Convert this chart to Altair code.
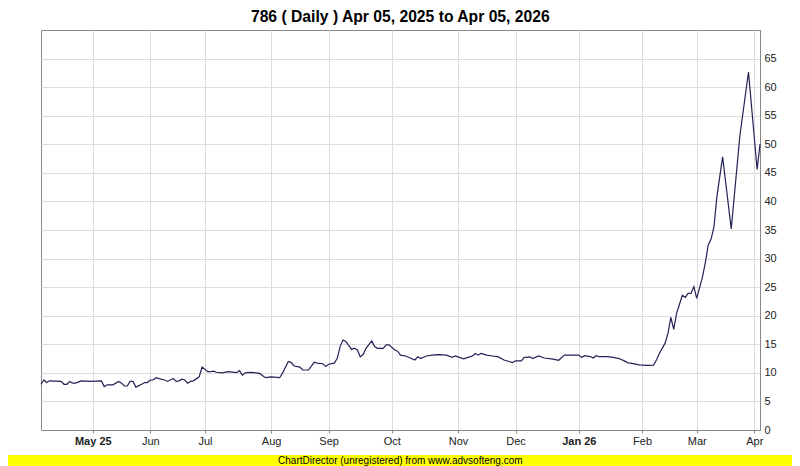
import json
import altair as alt
import pandas as pd

# Trading-session index and closing value
days = [0, 1, 2, 3, 7, 8, 9, 10, 11, 12, 14, 17, 21, 22, 23, 25, 27, 28, 29, 30,
        31, 32, 33, 35, 36, 37, 38, 39, 40, 41, 43, 44, 46, 47, 48, 49, 50, 51, 52, 53,
        55, 56, 58, 59, 60, 61, 63, 65, 68, 69, 70, 71, 73, 76, 78, 80, 81, 83, 84, 86,
        87, 88, 90, 91, 92, 93, 95, 96, 98, 99, 100, 102, 103, 104, 105, 106, 108, 109, 110, 111,
        112, 113, 115, 116, 117, 119, 120, 121, 123, 124, 125, 127, 128, 130, 131, 132, 134, 136, 138, 141,
        143, 144, 145, 147, 149, 150, 151, 152, 153, 155, 157, 159, 161, 163, 164, 165, 167, 168, 169, 170,
        171, 173, 175, 178, 180, 182, 184, 187, 188, 189, 191, 192, 193, 194, 197, 199, 201, 203, 204, 205,
        208, 211, 213, 214, 215, 217, 218, 219, 220, 221, 222, 223, 224, 225, 226, 227, 228, 230, 231, 232,
        233, 234, 235, 237, 240, 243, 246, 249, 250]
prices = [8.0, 8.75, 8.3, 8.6, 8.5, 8.0, 8.0, 8.5, 8.2, 8.2, 8.6, 8.5, 8.6, 7.6, 7.9, 7.9, 8.5, 8.2, 7.7, 7.7,
          8.5, 8.5, 7.5, 8.0, 8.3, 8.3, 8.75, 8.75, 9.15, 9.0, 8.75, 8.5, 9.0, 8.5, 8.6, 8.9, 8.75, 8.2, 8.5, 8.6,
          9.3, 11.0, 10.2, 10.2, 10.3, 10.1, 10.0, 10.2, 10.05, 10.4, 9.6, 10.0, 10.1, 9.9, 9.15, 9.3, 9.25, 9.15, 10.0, 12.0,
          11.8, 11.2, 11.0, 10.5, 10.5, 10.5, 11.85, 11.7, 11.6, 11.1, 11.5, 11.7, 12.55, 14.6, 15.75, 15.5, 14.1, 14.3, 14.0, 12.8,
          13.2, 14.3, 15.6, 14.6, 14.3, 14.3, 14.9, 14.9, 14.0, 13.8, 13.1, 12.9, 12.7, 12.25, 12.8, 12.5, 12.95, 13.1, 13.2, 13.1,
          12.7, 12.95, 12.8, 12.45, 12.8, 12.95, 13.4, 13.1, 13.4, 13.1, 12.95, 12.8, 12.25, 11.95, 11.8, 12.1, 12.1, 12.7, 12.7, 12.8,
          12.5, 12.95, 12.6, 12.4, 12.2, 13.1, 13.1, 13.1, 12.7, 13.0, 12.85, 12.6, 13.0, 12.85, 12.85, 12.7, 12.5, 12.05, 11.75, 11.7,
          11.4, 11.3, 11.35, 12.25, 13.4, 15.2, 16.9, 19.7, 17.6, 20.4, 22.0, 23.6, 23.2, 23.9, 23.9, 25.1, 23.05, 26.8, 29.3, 32.4,
          33.4, 35.6, 40.8, 47.8, 35.2, 51.5, 62.65, 45.6, 50.0]

month_ticks = [18, 38, 57, 80, 100, 122, 145, 165, 187, 209, 228, 248]
month_labels = ["May 25", "Jun", "Jul", "Aug", "Sep", "Oct", "Nov", "Dec",
                "Jan 26", "Feb", "Mar", "Apr"]
bold_ticks = [18, 187]
y_ticks = [0, 5, 10, 15, 20, 25, 30, 35, 40, 45, 50, 55, 60, 65]

title_text = "786 ( Daily ) Apr 05, 2025 to Apr 05, 2026"
footer_text = "ChartDirector (unregistered) from www.advsofteng.com"

df = pd.DataFrame({"day": days, "price": prices})

label_expr = f"{json.dumps(month_labels)}[indexof({json.dumps(month_ticks)}, datum.value)]"
bold_test = f"indexof({json.dumps(bold_ticks)}, datum.value) >= 0"

FONT = "Liberation Sans"

line = alt.Chart(df).mark_line(color="#222255", strokeWidth=1.2).encode(
    x=alt.X("day:Q",
            scale=alt.Scale(domain=[0, 250], nice=False, zero=False),
            axis=alt.Axis(values=month_ticks, labelExpr=label_expr, grid=True,
                          gridColor="#dcdcdc", domainColor="#888888", tickColor="#888888",
                          tickSize=3, labelPadding=2, labelFontSize=11, labelFont=FONT,
                          labelColor="#222222", labelOverlap=False, labelBound=False,
                          labelFlush=False,
                          labelFontWeight={"condition": {"test": bold_test, "value": "bold"},
                                           "value": "normal"},
                          title=None)),
    y=alt.Y("price:Q",
            scale=alt.Scale(domain=[0, 70], nice=False),
            axis=alt.Axis(orient="right", values=y_ticks, grid=True, gridColor="#dcdcdc",
                          domainColor="#888888", ticks=False, labelPadding=4,
                          labelFontSize=11, labelFont=FONT, labelColor="#222222",
                          labelFlush=False, title=None)),
)

one_row = alt.Data(values=[{"k": 1}])

band = alt.Chart(one_row).mark_rect(color="#ffff00").encode(
    x=alt.value(-33), x2=alt.value(751), y=alt.value(425), y2=alt.value(436)
)

footer = alt.Chart(one_row).mark_text(
    text=footer_text, fontSize=10, font=FONT, color="#000000",
    align="center", baseline="middle"
).encode(x=alt.value(359.3), y=alt.value(431))

title = alt.Chart(one_row).mark_text(
    text=title_text, fontSize=15.7, font=FONT, fontWeight="bold", color="#000000",
    align="center", baseline="alphabetic"
).encode(x=alt.value(359.3), y=alt.value(-8))

chart = alt.layer(line, band, footer, title).properties(
    width=719,
    height=400,
    autosize=alt.AutoSizeParams(type="none"),
    padding={"left": 33, "top": 22, "right": 32, "bottom": 36},
).configure_view(stroke="#888888", strokeWidth=1)

chart.save("out.html", embed_options={"renderer": "svg", "actions": False})
